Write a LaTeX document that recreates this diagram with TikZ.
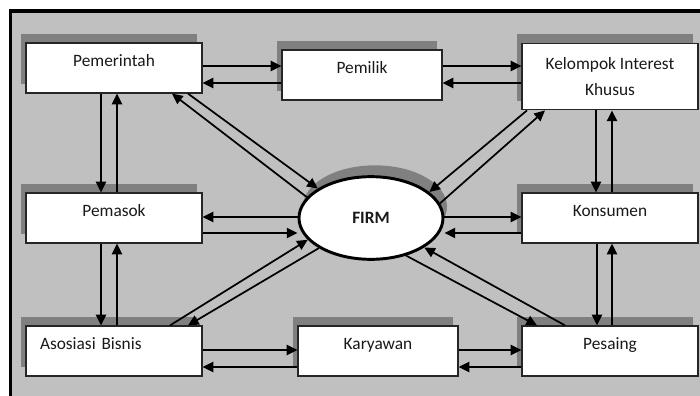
\documentclass[tikz,border=0pt]{standalone}
\usepackage{fontspec}
\setmainfont{Carlito}
\usetikzlibrary{arrows.meta,shadows,shapes.geometric}
\definecolor{bggray}{HTML}{C0C0C0}
\definecolor{shgray}{HTML}{808080}

\begin{document}
\begin{tikzpicture}[x=0.75pt, y=-0.75pt,
    every node/.style={font=\fontsize{13pt}{20pt}\selectfont, text=black!90},
    box/.style={draw=black!85, line width=0.9pt, fill=white, minimum width=132pt, minimum height=37.5pt,
        drop shadow={shadow xshift=-3.75pt, shadow yshift=7pt, fill=shgray, opacity=1}},
    lifted/.style={text height=8pt, text depth=10pt},
    arr/.style={line width=1.6pt, -{Triangle[length=8pt,width=7.5pt]}},
    darr/.style={line width=1.3pt, -{Triangle[length=8pt,width=7.5pt]}}]
    \useasboundingbox (0,0) rectangle (700,396);
    \fill[bggray] (10.5,11) rectangle (700,396);
    \draw[line width=2.6pt] (10.5,396) -- (10.5,11) -- (700,11);

    \node[box, lifted] (pemerintah) at (114,68) {Pemerintah};
    \node[box, lifted, minimum width=120pt] (pemilik) at (362,75) {Pemilik};
    \node[box, align=center, minimum height=50pt] (kelompok) at (610,76.5) {Kelompok Interest\\Khusus};
    \node[box, lifted] (pemasok) at (114,218) {Pemasok};
    \node[box, lifted] (konsumen) at (610,218) {Konsumen};
    \node[box, lifted, inner xsep=10.5pt, text width=111pt, align=left] (asosiasi) at (114,351) {Asosiasi Bisnis};
    \node[box, lifted, minimum width=120pt] (karyawan) at (378,351) {Karyawan};
    \node[box, lifted] (pesaing) at (610,351) {Pesaing};
    \node[ellipse, draw=black, line width=2.2pt, fill=white, minimum width=108pt, minimum height=62pt, inner sep=0pt,
        font=\fontsize{13pt}{16pt}\selectfont\bfseries,
        drop shadow={shadow xshift=3pt, shadow yshift=8.5pt, fill=shgray, opacity=1}] (firm) at (371,218) {FIRM};

    \draw[arr] (pemerintah.east |- 0,66) -- (pemilik.west |- 0,66);
    \draw[arr] (pemilik.west |- 0,83) -- (pemerintah.east |- 0,83);
    \draw[arr] (pemilik.east |- 0,66) -- (kelompok.west |- 0,66);
    \draw[arr] (kelompok.west |- 0,83) -- (pemilik.east |- 0,83);

    \draw[arr] (pemerintah.south -| 101,0) -- (pemasok.north -| 101,0);
    \draw[arr] (pemasok.north -| 117,0) -- (pemerintah.south -| 117,0);
    \draw[arr] (pemasok.south -| 101,0) -- (asosiasi.north -| 101,0);
    \draw[arr] (asosiasi.north -| 117,0) -- (pemasok.south -| 117,0);
    \draw[arr] (kelompok.south -| 596,0) -- (konsumen.north -| 596,0);
    \draw[arr] (konsumen.north -| 612,0) -- (kelompok.south -| 612,0);
    \draw[arr] (konsumen.south -| 597,0) -- (pesaing.north -| 597,0);
    \draw[arr] (pesaing.north -| 612,0) -- (konsumen.south -| 612,0);

    \draw[arr] (firm.west |- 0,217) -- (pemasok.east |- 0,217);
    \draw[arr] (pemasok.east |- 0,233) -- (firm.west |- 0,233);
    \draw[arr] (firm.east |- 0,217) -- (konsumen.west |- 0,217);
    \draw[arr] (konsumen.west |- 0,233) -- (firm.east |- 0,233);

    \draw[arr] (asosiasi.east |- 0,350) -- (karyawan.west |- 0,350);
    \draw[arr] (karyawan.west |- 0,367) -- (asosiasi.east |- 0,367);
    \draw[arr] (karyawan.east |- 0,350) -- (pesaing.west |- 0,350);
    \draw[arr] (pesaing.west |- 0,367) -- (karyawan.east |- 0,367);

    \draw[darr] (pemerintah.south -| 188,0) -- (firm.151);
    \draw[darr] (firm.162) -- (pemerintah.south -| 172,0);
    \draw[darr] (kelompok.south -| 527,0) -- (firm.24);
    \draw[darr] (firm.12) -- (kelompok.south -| 545,0);
    \draw[darr] (asosiasi.north -| 170,0) -- (firm.199);
    \draw[darr] (firm.210) -- (asosiasi.north -| 188,0);
    \draw[darr] (firm.313) -- (pesaing.north -| 537,0);
    \draw[darr] (pesaing.north -| 565,0) -- (firm.331);
\end{tikzpicture}
\end{document}
